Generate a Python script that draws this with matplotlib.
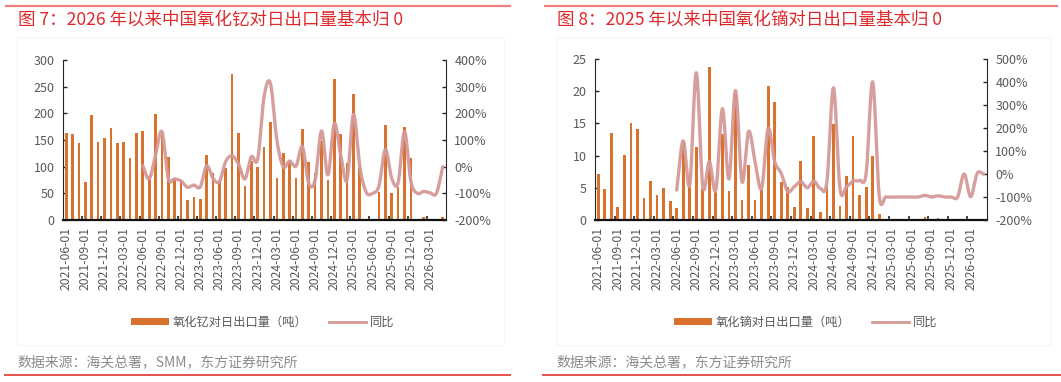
import numpy as np
import pandas as pd
import matplotlib
matplotlib.use("Agg")
import matplotlib.pyplot as plt
from matplotlib.lines import Line2D
from matplotlib.patches import Patch, Rectangle

plt.rcParams['font.family'] = ['Noto Sans CJK SC', 'DejaVu Sans']

# ---------------- data ----------------
months = pd.date_range('2021-06-01', periods=60, freq='MS')
month_labels = [d.strftime('%Y-%m-%d') for d in months]

# Figure 7: yttrium oxide exports to Japan (tonnes) and YoY (%)
y2o3_tons = [164, 162, 144, 71, 197, 146, 154, 172, 144, 146, 117, 164,
             167, 83, 199, 164, 119, 78, 75, 38, 44, 40, 122, 89,
             73, 97, 274, 164, 64, 110, 99, 137, 184, 79, 125, 108,
             78, 171, 109, 89, 149, 75, 264, 162, 106, 236, 100, 0,
             0, 52, 179, 51, 61, 175, 117, 0, 6, 0, 0, 6]
y2o3_yoy = [np.nan] * 12 + [
             3, -45, 44, 131, -44, -46, -54, -77, -69, -76, 3, -44,
             -56, 20, 40, 10, -46, 37, 29, 262, 312, 100, 0, 21,
             2, 75, -62, -50, 134, -31, 162, 44, -50, 196, 0, -96,
             -100, -72, 65, -44, -60, 131, -56, -100, -93, -98, -100, 0]

# Figure 8: dysprosium oxide exports to Japan (tonnes) and YoY (%)
dy2o3_tons = [7.1, 4.8, 13.5, 2.0, 10.1, 15.0, 14.2, 3.4, 6.0, 3.9, 4.9, 3.0,
              1.9, 12.0, 7.0, 11.3, 4.8, 23.8, 4.3, 13.3, 4.5, 19.5, 3.1, 8.5,
              3.1, 4.8, 20.8, 18.3, 5.9, 5.1, 2.0, 9.1, 1.9, 13.0, 1.2, 5.5,
              14.9, 2.1, 6.9, 13.0, 3.9, 5.2, 9.9, 0.9, 0, 0, 0, 0,
              0, 0, 0.4, 0, 0.25, 0, 0, 0, 0, 0, 0, 0]
dy2o3_yoy = [np.nan] * 12 + [
              -70, 144, -48, 440, -55, 54, -70, 284, -22, 363, -34, 185,
              54, -63, 197, 54, 3, -76, -55, -34, -60, -31, -63, -34,
              375, -63, -55, -31, -28, 3, 401, -95, -100, -100, -100, -100,
              -100, -100, -93, -100, -95, -100, -100, -100, 0, -99, 3, 0]

titles = ['图 7：2026 年以来中国氧化钇对日出口量基本归 0',
          '图 8：2025 年以来中国氧化镝对日出口量基本归 0']
bar_names = ['氧化钇对日出口量（吨）', '氧化镝对日出口量（吨）']
line_name = '同比'
sources = ['数据来源：海关总署，SMM，东方证券研究所',
           '数据来源：海关总署，东方证券研究所']

# ---------------- style ----------------
BAR_C = '#D9712F'
LINE_C = '#D49A98'
TXT_C = '#595959'
SRC_C = '#8C8C8C'
TITLE_C = '#E0282B'
W, H = 1061, 382


def catmull_rom(x, y, n=16):
    x = np.asarray(x, float)
    y = np.asarray(y, float)
    px = np.concatenate([[2 * x[0] - x[1]], x, [2 * x[-1] - x[-2]]])
    py = np.concatenate([[2 * y[0] - y[1]], y, [2 * y[-1] - y[-2]]])
    xs, ys = [], []
    t = np.linspace(0, 1, n, endpoint=False)
    for i in range(1, len(px) - 2):
        for arr, out in ((px, xs), (py, ys)):
            p0, p1, p2, p3 = arr[i - 1], arr[i], arr[i + 1], arr[i + 2]
            out.extend(0.5 * ((2 * p1) + (-p0 + p2) * t +
                              (2 * p0 - 5 * p1 + 4 * p2 - p3) * t ** 2 +
                              (-p0 + 3 * p1 - 3 * p2 + p3) * t ** 3))
    xs.append(x[-1]); ys.append(y[-1])
    return np.array(xs), np.array(ys)


fig = plt.figure(figsize=(W / 100, H / 100), dpi=100)


def panel(ax_rect, tons, yoy, ylim, yticks, rlim, rticks,
          title, bar_name, source, leg_cx, panel_left, line_l, line_r, bline_l, bline_r):
    # frame lines
    fig.add_artist(Line2D([line_l / W, line_r / W], [1 - 5.5 / H] * 2,
                          color='#F07F7F', lw=1.6))
    fig.add_artist(Line2D([bline_l / W, bline_r / W], [1 - 375 / H] * 2,
                          color='#E9514C', lw=1.4))
    fig.add_artist(Rectangle((panel_left / W, 1 - 345 / H), (line_r - 6 - panel_left) / W,
                             (345 - 37) / H, fill=False, edgecolor='#F6F6F6', lw=0.8))
    fig.text((panel_left + 1) / W, 1 - 20 / H, title, color=TITLE_C, fontsize=12.6,
             va='center', ha='left')

    ax = fig.add_axes(ax_rect)
    x = np.arange(len(tons))
    ax.bar(x, tons, width=0.42, color=BAR_C, zorder=2)
    ax.set_xlim(-0.5, len(tons) - 0.5)
    ax.set_ylim(*ylim)
    ax.set_yticks(yticks)
    ax.tick_params(axis='y', direction='in', length=3, width=1, colors='#262626',
                   labelcolor=TXT_C, labelsize=9, pad=6)
    # category ticks at boundaries, labels at centers
    ax.set_xticks(np.arange(3, len(tons), 3) - 0.5)
    ax.set_xticklabels([])
    ax.tick_params(axis='x', which='major', direction='in', length=3, width=1.2,
                   colors='#262626')
    ax.set_xticks(np.arange(0, len(tons), 3), minor=True)
    ax.set_xticklabels([month_labels[i] for i in range(0, len(tons), 3)],
                       minor=True, rotation=90)
    ax.tick_params(axis='x', which='minor', length=0, labelsize=8.8,
                   labelcolor=TXT_C, pad=5)
    for s in ['top', 'right']:
        ax.spines[s].set_visible(False)
    ax.spines['left'].set_color('#262626')
    ax.spines['bottom'].set_color('#111111')
    ax.spines['bottom'].set_linewidth(1.6)
    ax.spines['bottom'].set_zorder(5)

    ax2 = ax.twinx()
    yy = np.asarray(yoy, float)
    m = ~np.isnan(yy)
    sx, sy = catmull_rom(x[m], yy[m])
    ax2.plot(sx, sy, color=LINE_C, lw=2.4, alpha=0.95, solid_capstyle='round', zorder=3)
    ax2.set_ylim(*rlim)
    ax2.set_yticks(rticks)
    ax2.set_yticklabels([f'{int(v)}%' for v in rticks])
    ax2.tick_params(axis='y', direction='in', length=3, width=1, colors='#262626',
                    labelcolor=TXT_C, labelsize=9, pad=6)
    for s in ['top', 'left', 'bottom']:
        ax2.spines[s].set_visible(False)
    ax2.spines['right'].set_color('#262626')

    handles = [Patch(facecolor=BAR_C, edgecolor='none'),
               Line2D([0], [0], color=LINE_C, lw=2.0)]
    fig.legend(handles, [bar_name, line_name], loc='center',
               bbox_to_anchor=(leg_cx / W, 1 - 322 / H), ncol=2, frameon=False,
               fontsize=8.8, labelcolor=TXT_C, handlelength=3.1, handleheight=0.5,
               handletextpad=0.3, columnspacing=1.7)
    fig.text((panel_left) / W, 1 - 362 / H, source, color=SRC_C, fontsize=10,
             va='center', ha='left')


panel([63 / W, (H - 220) / H, 383 / W, 160 / H],
      y2o3_tons, y2o3_yoy, (0, 300), np.arange(0, 301, 50),
      (-200, 400), np.arange(-200, 401, 100),
      titles[0], bar_names[0], sources[0], 263, 17, 6, 510, 5, 510)

panel([595 / W, (H - 220) / H, 392 / W, 161 / H],
      dy2o3_tons, dy2o3_yoy, (0, 25), np.arange(0, 26, 5),
      (-200, 500), np.arange(-200, 501, 100),
      titles[1], bar_names[1], sources[1], 806, 556, 545, 1057, 543, 1061)

fig.savefig('out.png', dpi=100)
